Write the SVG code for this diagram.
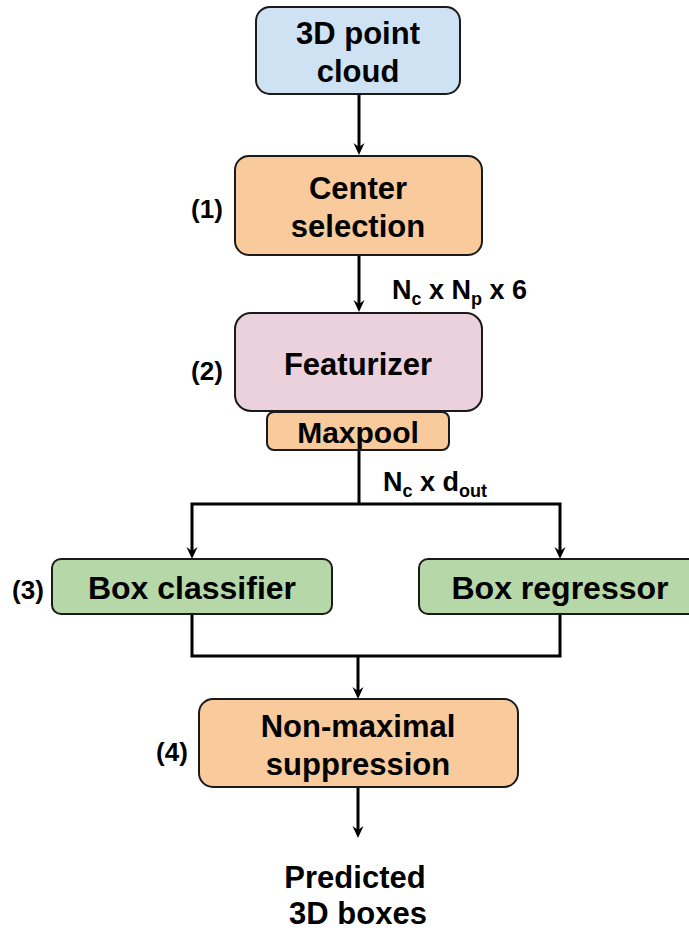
<svg xmlns="http://www.w3.org/2000/svg" width="689" height="931" viewBox="0 0 689 931">
<style>
text{font-family:"Liberation Sans",Arial,Helvetica,sans-serif;font-weight:bold;fill:#000}
.t{font-size:31px;text-anchor:middle}
.w{font-size:32px}
.n{font-size:26px;text-anchor:middle}
.d{font-size:27px}
.s{font-size:18px}
.box{stroke:#1a1a1a;stroke-width:2}
.blue{fill:#cfe2f3}
.orange{fill:#f9cb9c}
.pink{fill:#ead1dc}
.green{fill:#b6d7a8}
.c{fill:none;stroke:#000;stroke-width:3;stroke-linejoin:miter}
</style>
<defs>
<marker id="arr" viewBox="0 0 12 12" refX="6" refY="6" markerWidth="12" markerHeight="12" markerUnits="userSpaceOnUse" orient="auto">
<path d="M0,0.5 L12,6 L0,11.5 L4,6 Z" fill="#000"/>
</marker>
</defs>
<rect width="689" height="931" fill="#fff"/>
<g id="connectors">
<path class="c" d="M359,94 V149" marker-end="url(#arr)"/>
<path class="c" d="M359,255 V306" marker-end="url(#arr)"/>
<path class="c" d="M359,450 V504"/>
<path class="c" d="M359,504 H192 V553" marker-end="url(#arr)"/>
<path class="c" d="M359,504 H560 V553" marker-end="url(#arr)"/>
<path class="c" d="M192,614 V656 H560 V614"/>
<path class="c" d="M358,656 V693" marker-end="url(#arr)"/>
<path class="c" d="M358,787 V832" marker-end="url(#arr)"/>
</g>
<g id="point-cloud">
<rect class="box blue" x="256" y="7" width="204" height="87" rx="14"/>
<text class="t" x="358" y="44">3D point</text>
<text class="t" x="358" y="82">cloud</text>
</g>
<g id="center-selection">
<rect class="box orange" x="235" y="156" width="247" height="99" rx="14"/>
<text class="t" x="358" y="199">Center</text>
<text class="t" x="358" y="237">selection</text>
<text class="n" x="207" y="218">(1)</text>
</g>
<g id="label-np">
<text class="d" x="392" y="299">N<tspan class="s" dy="6">c</tspan><tspan dy="-6"> x N</tspan><tspan class="s" dy="6">p</tspan><tspan dy="-6"> x 6</tspan></text>
</g>
<g id="featurizer">
<rect class="box pink" x="235" y="313" width="247" height="98" rx="16"/>
<text class="t" x="358" y="375">Featurizer</text>
<text class="n" x="207" y="380">(2)</text>
</g>
<g id="maxpool">
<rect class="box orange" x="267" y="412" width="182" height="38" rx="7"/>
<text class="t" x="358" y="443" style="font-size:30px">Maxpool</text>
</g>
<g id="label-dout">
<text class="d" x="383" y="491">N<tspan class="s" dy="6">c</tspan><tspan dy="-6"> x d</tspan><tspan class="s" dy="6">out</tspan></text>
</g>
<g id="box-classifier">
<rect class="box green" x="52" y="559" width="280" height="55" rx="9"/>
<text class="t w" x="192" y="599">Box classifier</text>
<text class="n" x="28" y="599">(3)</text>
</g>
<g id="box-regressor">
<rect class="box green" x="419" y="559" width="290" height="55" rx="9"/>
<text class="t w" x="560" y="599">Box regressor</text>
</g>
<g id="nms">
<rect class="box orange" x="199" y="699" width="319" height="88" rx="14"/>
<text class="t" x="358" y="737">Non-maximal</text>
<text class="t" x="358" y="775">suppression</text>
<text class="n" x="172" y="761">(4)</text>
</g>
<g id="output">
<text class="t" x="355" y="888">Predicted</text>
<text class="t" x="358" y="924">3D boxes</text>
</g>
</svg>
